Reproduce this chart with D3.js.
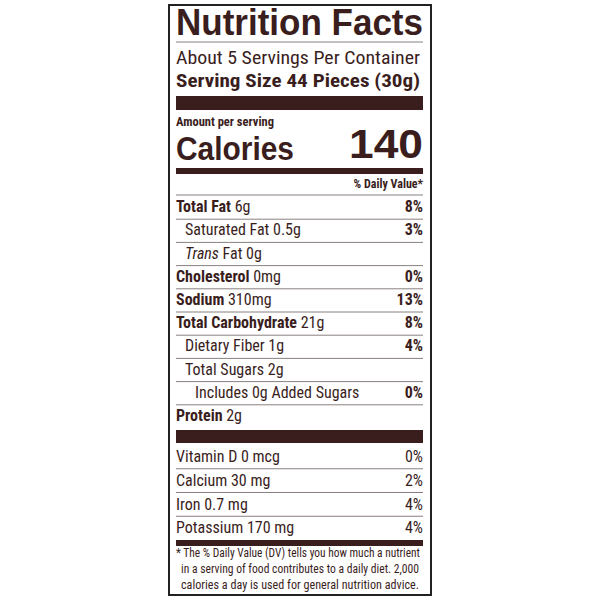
<!DOCTYPE html><html><head><meta charset="utf-8"><script src="https://d3js.org/d3.v7.min.js"></script>
<style>body{margin:0;background:#fff}</style></head><body><svg id="c" width="600" height="600"></svg>
<script>
const nutrients=["Total Fat","Saturated Fat","Trans Fat","Cholesterol","Sodium","Total Carbohydrate","Dietary Fiber","Total Sugars","Includes 0g Added Sugars","Protein"];
const amounts=["6g","0.5g","0g","0mg","310mg","21g","1g","2g","","2g"];
const dvs=["8%","3%","","0%","13%","8%","4%","","0%",""];
const boldName=[1,0,0,1,1,1,0,0,0,1];
const indent=[0,1,1,0,0,0,1,1,2,0];
const vitamins=["Vitamin D 0 mcg","Calcium 30 mg","Iron 0.7 mg","Potassium 170 mg"];
const vitDV=["0%","2%","4%","4%"];
const footnote=["* The % Daily Value (DV) tells you how much a nutrient","in a serving of food contributes to a daily diet. 2,000","calories a day is used for general nutrition advice."];
const C="#3a1e1d",F="'Liberation Sans Narrow','Roboto Condensed',Arial,sans-serif";
const svg=d3.select("#c");
const L=176,R=423;
svg.append("rect").attr("x",169).attr("y",5).attr("width",262).attr("height",590).attr("fill","none").attr("stroke","#222").attr("stroke-width",2);
function t(x,y,s,size,w,anchor,extra){const e=svg.append("text").attr("x",x).attr("y",y).text(s).attr("font-family",F).attr("font-size",size).attr("font-weight",w||"normal").attr("fill",C).attr("text-anchor",anchor||"start");if(extra)e.attr("textLength",extra).attr("lengthAdjust","spacingAndGlyphs");return e;}
function line(y,x0){svg.append("line").attr("x1",x0||L).attr("x2",R).attr("y1",y).attr("y2",y).attr("stroke","#8a8080").attr("stroke-width",1);}
function bar(y,h){svg.append("rect").attr("x",L).attr("y",y).attr("width",R-L).attr("height",h).attr("fill",C);}
t(L,35,"Nutrition Facts",37,"900","start",R-L).attr("font-family","'Liberation Sans',Arial,sans-serif");
line(42);
t(L,64,"About 5 Servings Per Container",19,"normal","start",R-L-3);
t(L,87,"Serving Size 44 Pieces (30g)",19,"bold","start",R-L-3);
bar(96,14);
t(L,126,"Amount per serving",12.5,"bold");
t(L,160,"Calories",34,"bold","start",118).attr("font-family","'Liberation Sans',Arial,sans-serif");
t(R,158,"140",40,"bold","end",74).attr("font-family","'Liberation Sans',Arial,sans-serif");
bar(168,6);
t(R,188,"% Daily Value*",12,"bold","end");
line(195);
const y=d3.scaleBand().domain(d3.range(nutrients.length)).range([196,428]);
nutrients.forEach((n,i)=>{
  const yb=y(i)+y.bandwidth()*0.7, x=L+[0,9,9][indent[i]]+(indent[i]==2?10:0);
  const g=t(x,yb,"",16);
  if(n==="Trans Fat"){g.append("tspan").attr("font-style","italic").text("Trans");g.append("tspan").text(" Fat "+amounts[i]);}
  else{g.append("tspan").attr("font-weight",boldName[i]?"bold":"normal").text(n);if(amounts[i])g.append("tspan").text(" "+amounts[i]);}
  if(dvs[i])t(R,yb,dvs[i],16,"bold","end");
  if(i<nutrients.length-1)line(y(i)+y.bandwidth());
});
bar(430,13);
const yv=d3.scaleBand().domain(d3.range(vitamins.length)).range([445,540]);
vitamins.forEach((v,i)=>{const yb=yv(i)+yv.bandwidth()*0.72;t(L,yb,v,16);t(R,yb,vitDV[i],16,"normal","end");if(i<vitamins.length-1)line(yv(i)+yv.bandwidth());});
bar(540,6);
footnote.forEach((s,i)=>t(i?L+5:L,557+i*16,s,12.5,"normal","start",R-L-(i?9:3)));
</script></body></html>
